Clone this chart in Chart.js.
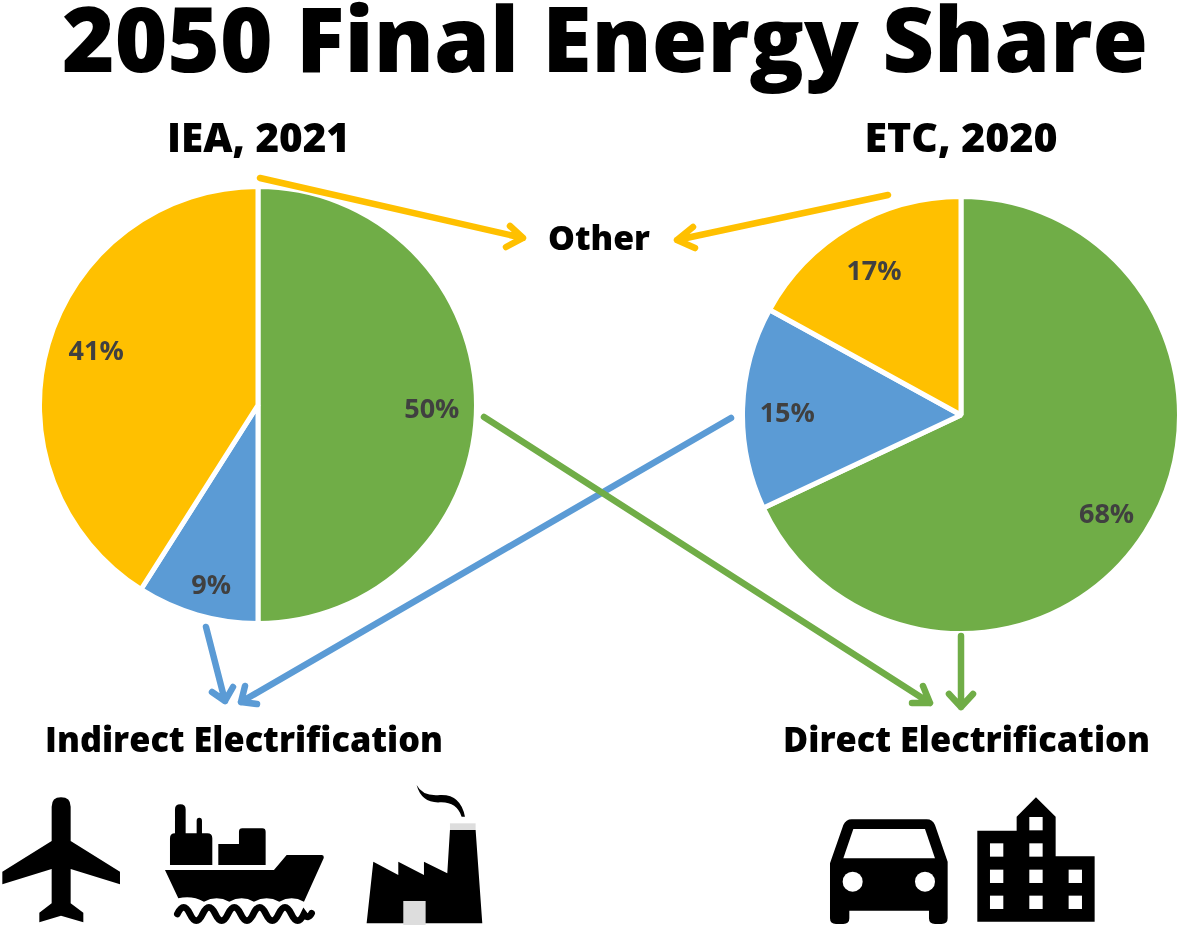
<!DOCTYPE html>
<html>
<head>
<meta charset="utf-8">
<title>2050 Final Energy Share</title>
<script src="https://cdn.jsdelivr.net/npm/chart.js@4"></script>
<style>
  html, body { margin: 0; background: #fff; }
  #page { position: relative; width: 1179px; height: 928px; overflow: hidden; }
  canvas { position: absolute; }
  #pieIea { left: 37px; top: 184px; }
  #pieEtc { left: 740px; top: 194px; }
  svg { position: absolute; left: 0; top: 0; }
  text { font-family: "Open Sans", sans-serif; font-weight: 800; fill: #000; text-anchor: middle; }
  .arrow { fill: none; stroke-width: 6.5; stroke-linecap: round; stroke-linejoin: round; }
</style>
</head>
<body>
<div id="page">
  <canvas id="pieIea" width="442" height="442"></canvas>
  <canvas id="pieEtc" width="442" height="442"></canvas>

  <svg width="1179" height="928" viewBox="0 0 1179 928">
    <text x="605" y="72" font-size="90" textLength="1086" lengthAdjust="spacingAndGlyphs">2050 Final Energy Share</text>
    <text x="258.500" y="152" font-size="41" textLength="183" lengthAdjust="spacingAndGlyphs">IEA, 2021</text>
    <text x="961" y="152" font-size="41" textLength="193" lengthAdjust="spacingAndGlyphs">ETC, 2020</text>
    <text x="599" y="250" font-size="33" textLength="102" lengthAdjust="spacingAndGlyphs">Other</text>
    <text x="244" y="752" font-size="35" textLength="398" lengthAdjust="spacingAndGlyphs">Indirect Electrification</text>
    <text x="966.500" y="752" font-size="35" textLength="367" lengthAdjust="spacingAndGlyphs">Direct Electrification</text>

    <!-- arrows -->
    <g class="arrow" stroke="#FFC000">
      <path d="M260,178 L523,238 M510,226 L523,238 L506,247"/>
      <path d="M888,195 L677,240 M693,227 L677,240 L695,248"/>
    </g>
    <g class="arrow" stroke="#5B9BD5">
      <path d="M206,627 L225,701 M212,692 L225,701 L233,687"/>
      <path d="M731,418 L241,702 M245,686 L241,702 L257,704"/>
    </g>
    <g class="arrow" stroke="#70AD47">
      <path d="M484,417 L930,703 M923,686 L930,703 L912,703"/>
      <path d="M961,636 L961,707 M949,694 L961,707 L973,694"/>
    </g>

    <!-- plane, ship, factory -->
    <g transform="translate(0,770) scale(0.3333)">
      <path d="M155,110 Q155,82 183,82 Q212,82 212,110 L212,213 L360,305 L360,343 L212,297 L212,400 L250,428 L250,457 L183,437 L118,457 L118,428 L155,400 L155,297 L7,343 L7,305 L155,213 Z"/>

      <path d="M525,190 L525,118 Q525,103 541,103 Q557,103 557,118 L557,190 L590,190 L590,152 Q590,143 598,143 Q606,143 606,152 L606,190 L622,190 Q637,190 637,205 L637,285 L510,285 L510,205 Q510,190 525,190 Z"/>
      <path d="M655,285 L655,222 L717,222 L717,185 Q717,175 727,175 L787,175 Q797,175 797,185 L797,285 Z"/>
      <path d="M495,300 L822,300 L860,255 L965,255 Q973,255 971,265 L912,395 Q875,375 838,395 Q800,375 762,395 Q725,375 688,395 Q650,375 612,395 Q575,375 535,385 Z"/>
      <path d="M532,432 Q551,392 570,432 T608,432 T646,432 T684,432 T722,432 T760,432 T798,432 T836,432 T874,432 T912,432 Q925,450 935,430" fill="none" stroke="#000" stroke-width="20" stroke-linecap="round"/>

      <path d="M1100,460 L1120,275 L1195,315 L1195,275 L1272,315 L1272,275 L1342,310 L1350,180 L1427,180 L1447,460 Z"/>
      <rect x="1350" y="160" width="77" height="20" fill="#ddd"/>
      <rect x="1210" y="393" width="67" height="72" fill="#ddd"/>
      <path d="M1250,45 Q1268,80 1320,75 Q1382,72 1395,140 L1385,140 Q1370,95 1320,97 Q1265,100 1250,45 Z"/>
    </g>

    <!-- car, building -->
    <g transform="translate(810,780) scale(0.3333)">
      <path d="M60,250 L100,135 Q108,118 125,118 L350,118 Q368,118 375,135 L413,245 L413,415 Q413,432 395,432 L375,432 Q357,432 357,415 L357,392 L118,392 L118,415 Q118,432 100,432 L78,432 Q60,432 60,415 Z"/>
      <path d="M130,147 L345,147 L375,235 L100,235 Z" fill="#fff"/>
      <circle cx="128" cy="305" r="30" fill="#fff"/>
      <circle cx="345" cy="305" r="30" fill="#fff"/>

      <path d="M502,425 L502,152 L620,152 L620,110 L678,52 L737,110 L737,229 L854,229 L854,425 Z"/>
      <g fill="#fff">
        <rect x="658" y="111" width="40" height="40"/>
        <rect x="540" y="190" width="40" height="40"/>
        <rect x="658" y="190" width="40" height="40"/>
        <rect x="540" y="269" width="40" height="40"/>
        <rect x="658" y="269" width="40" height="40"/>
        <rect x="776" y="269" width="40" height="40"/>
        <rect x="540" y="347" width="40" height="40"/>
        <rect x="658" y="347" width="40" height="40"/>
        <rect x="776" y="347" width="40" height="40"/>
      </g>
    </g>
  </svg>
</div>

<script>
const categories = ['Direct Electrification', 'Indirect Electrification', 'Other'];
const ieaValues = [50, 9, 41];
const etcValues = [68, 15, 17];
const sliceColors = ['#70AD47', '#5B9BD5', '#FFC000'];

// label nudges in px, the source placed these by hand
const ieaNudge = [[-1, 5], [2, 13], [6, -4]];
const etcNudge = [[-2, 7], [1, 5], [2, 8]];

// percent labels, placed along each slice's mid angle
const pieLabels = {
  id: 'pieLabels',
  afterDatasetsDraw(chart, args, opts) {
    const ctx = chart.ctx;
    const values = chart.data.datasets[0].data;
    ctx.save();
    ctx.font = '700 27px "Open Sans", sans-serif';
    ctx.fillStyle = '#404040';
    ctx.textAlign = 'center';
    ctx.textBaseline = 'middle';
    chart.getDatasetMeta(0).data.forEach((arc, i) => {
      const mid = (arc.startAngle + arc.endAngle) / 2;
      const r = arc.outerRadius * 0.8;
      const [dx, dy] = opts.nudge[i];
      ctx.fillText(values[i] + '%', arc.x + Math.cos(mid) * r + dx, arc.y + Math.sin(mid) * r + dy);
    });
    ctx.restore();
  }
};

function makePie(canvasId, values, nudge) {
  return new Chart(document.getElementById(canvasId), {
    type: 'pie',
    data: {
      labels: categories,
      datasets: [{
        data: values,
        backgroundColor: sliceColors,
        borderColor: '#fff',
        borderWidth: 5,
      }]
    },
    options: {
      responsive: false,
      animation: false,
      plugins: {
        legend: { display: false },
        tooltip: { enabled: false },
        pieLabels: { nudge }
      }
    },
    plugins: [pieLabels]
  });
}

makePie('pieIea', ieaValues, ieaNudge);
makePie('pieEtc', etcValues, etcNudge);
</script>
</body>
</html>
